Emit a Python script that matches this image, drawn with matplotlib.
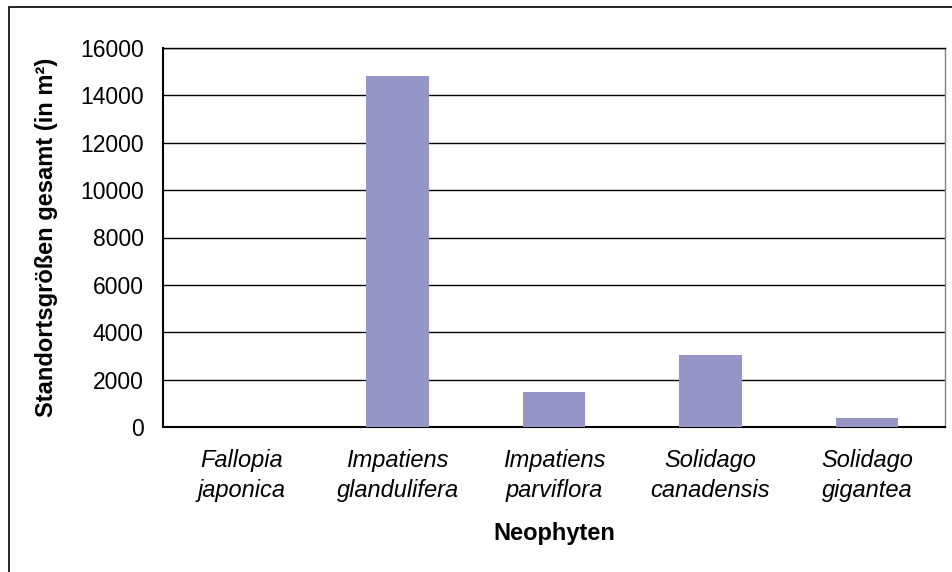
import matplotlib
matplotlib.use("Agg")
import matplotlib.pyplot as plt
from matplotlib.patches import Rectangle

categories = ["Fallopia\njaponica", "Impatiens\nglandulifera", "Impatiens\nparviflora",
              "Solidago\ncanadensis", "Solidago\ngigantea"]
values = [0, 14820, 1480, 3040, 400]
yticks = [0, 2000, 4000, 6000, 8000, 10000, 12000, 14000, 16000]

plt.rcParams['font.family'] = ['Liberation Sans', 'DejaVu Sans']

fig = plt.figure(figsize=(9.53, 5.72), dpi=100)
fig.patches.append(Rectangle((9/953, -0.1), 1.2, 1 - 7/572 + 0.1, transform=fig.transFigure,
                             fill=False, edgecolor='black', linewidth=1.2))
ax = fig.add_axes([163/953, 1 - 427/572, (945-163)/953, (427-48)/572])

x = list(range(len(categories)))
ax.bar(x, values, width=0.4, color='#9595C8', zorder=3)
ax.set_xlim(-0.5, len(categories) - 0.5)
ax.set_ylim(0, 16000)
ax.set_yticks(yticks)
ax.set_yticklabels([str(v) for v in yticks], fontsize=16.5)
ax.set_xticks(x)
ax.set_xticklabels(categories, fontsize=17, style='italic', linespacing=1.35)
ax.tick_params(axis='x', length=0, pad=16)
ax.tick_params(axis='y', length=0, pad=14)
ax.yaxis.grid(True, color='black', linewidth=1.0, zorder=0)
ax.set_axisbelow(True)
for s in ['left', 'bottom']:
    ax.spines[s].set_color('black')
    ax.spines[s].set_linewidth(1.5)
ax.spines['top'].set_color('black')
ax.spines['top'].set_linewidth(1.0)
ax.spines['right'].set_color('#808080')
ax.spines['right'].set_linewidth(1.0)

ax.set_ylabel("Standortsgrößen gesamt (in m²)", fontsize=17, fontweight='bold', labelpad=16)
ax.set_xlabel("Neophyten", fontsize=17, fontweight='bold', labelpad=15)

fig.savefig("out.png", dpi=100)
